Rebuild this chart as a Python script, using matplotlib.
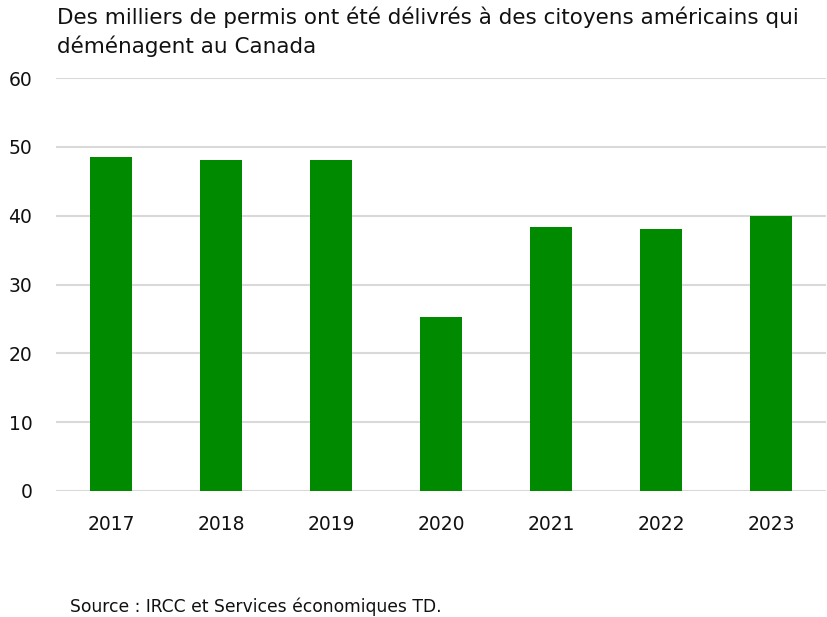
import matplotlib.pyplot as plt
import numpy as np

plt.rcParams['font.family'] = ['DejaVu Sans']

years = ['2017', '2018', '2019', '2020', '2021', '2022', '2023']
permits = [48.5, 48.1, 48.1, 25.3, 38.3, 38.0, 39.9]
title = "Des milliers de permis ont été délivrés à des citoyens américains qui\ndéménagent au Canada"
source = "Source : IRCC et Services économiques TD."

fig = plt.figure(figsize=(8.27, 6.17), dpi=100)
ax = fig.add_axes([56/827, 1-491/617, 770/827, 413/617])

x = np.arange(len(years))
ax.bar(x, permits, width=0.38, color='#008a00', zorder=3)

ax.set_xlim(-0.5, len(years)-0.5)
ax.set_ylim(0, 60)
ax.set_yticks(np.arange(0, 61, 10))
ax.set_xticks(x)
ax.set_xticklabels(years)
ax.yaxis.grid(True, color='#d9d9d9', linewidth=1.5, zorder=0)
ax.tick_params(axis='both', length=0, labelsize=13.5, colors='#111111')
ax.tick_params(axis='y', pad=17)
ax.tick_params(axis='x', pad=17)
for s in ax.spines.values():
    s.set_visible(False)

fig.text(57/827, 1-7/617, title, fontsize=15.5, va='top', ha='left',
         color='#111111', linespacing=1.4)
fig.text(70/827, 1-607/617, source, fontsize=12.3, va='center', ha='left', color='#111111')

fig.savefig('out.png', dpi=100)
